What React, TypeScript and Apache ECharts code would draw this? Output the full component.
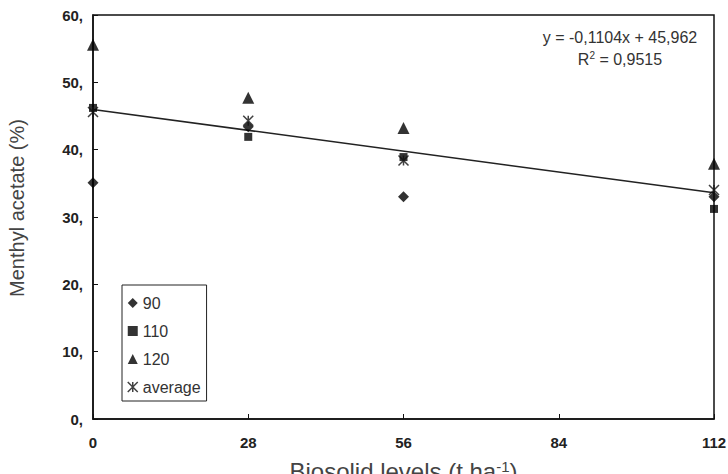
import React, { useEffect, useRef } from "react";
import * as echarts from "echarts";

const levels = [0, 28, 56, 112];
const s90 = [35.1, 43.4, 33.0, 33.0];
const s110 = [46.2, 41.9, 38.9, 31.2];
const s120 = [55.6, 47.7, 43.2, 37.9];
const sAvg = [45.6, 44.3, 38.4, 34.0];
const trendX = [0, 112];
const trendY = [45.962, 33.597];
const xTicks = [0, 28, 56, 84, 112];
const eqText = "y = -0,1104x + 45,962";
const r2Text = "0,9515";

const starPath = "path://M0,0L10,10M10,0L0,10M5,0L5,10";

export default function App() {
  const ref = useRef<HTMLDivElement>(null);
  useEffect(() => {
    if (!ref.current) return;
    const chart = echarts.init(ref.current, undefined, { renderer: "svg" });
    const pts = (ys: number[]) => levels.map((x, i) => [x, ys[i]]);
    const font = "Arial, 'Liberation Sans', sans-serif";
    chart.setOption({
      animation: false,
      textStyle: { fontFamily: font },
      grid: {
        left: 93, right: 14, top: 15, bottom: 55, show: true,
        borderColor: "#111", borderWidth: 1.5, backgroundColor: "transparent",
        outerBoundsMode: "none", containLabel: false,
      },
      legend: {
        orient: "vertical",
        left: 122,
        top: 285,
        padding: [10, 6, 6, 5],
        borderColor: "#222",
        borderWidth: 1,
        itemWidth: 10,
        itemHeight: 10,
        itemGap: 12,
        textStyle: { fontSize: 16, color: "#333", fontFamily: font },
        data: [
          { name: "90" },
          { name: "110" },
          { name: "120" },
          { name: "average", icon: starPath, itemStyle: { color: "transparent", borderColor: "#111", borderWidth: 1.5 } },
        ],
      },
      xAxis: {
        type: "value",
        min: 0,
        max: 112,
        interval: 28,
        splitLine: { show: false },
        axisLine: { lineStyle: { color: "#111", width: 1.5 } },
        axisTick: { inside: true, length: 5, lineStyle: { color: "#111" } },
        axisLabel: {
          fontSize: 15, fontWeight: "bold", color: "#222", margin: 16,
          customValues: xTicks,
        },
        name: "Biosolid levels (t ha{sup|-1})",
        nameLocation: "middle",
        nameGap: 40,
        nameTextStyle: {
          fontSize: 24, color: "#444", fontFamily: font,
          rich: { sup: { fontSize: 15, color: "#444", verticalAlign: "top", padding: [0, 0, 10, 0] } },
        },
      },
      yAxis: {
        type: "value",
        min: 0,
        max: 60,
        interval: 10,
        splitLine: { show: false },
        axisLine: { show: true, lineStyle: { color: "#111", width: 1.5 } },
        axisTick: { show: true, inside: true, length: 5, lineStyle: { color: "#111" } },
        axisLabel: { fontSize: 15, fontWeight: "bold", color: "#222", margin: 10, formatter: (v: number) => `${v},` },
        name: "Menthyl acetate (%)",
        nameLocation: "middle",
        nameGap: 66,
        nameTextStyle: { fontSize: 20, color: "#444", fontFamily: font, padding: [0, 0, 0, 18] },
      },
      series: [
        {
          name: "trend",
          type: "line",
          data: trendX.map((x, i) => [x, trendY[i]]),
          showSymbol: false,
          symbol: "none",
          lineStyle: { color: "#222", width: 1.5 },
          z: 1,
        },
        { name: "90", type: "scatter", data: pts(s90), symbol: "diamond", symbolSize: 11, itemStyle: { color: "#000" }, z: 3 },
        { name: "110", type: "scatter", data: pts(s110), symbol: "rect", symbolSize: 8, itemStyle: { color: "#000" }, z: 3 },
        { name: "120", type: "scatter", data: pts(s120), symbol: "triangle", symbolSize: 12, itemStyle: { color: "#000" }, z: 3 },
        {
          name: "average", type: "scatter", data: pts(sAvg), symbol: starPath, symbolSize: 10,
          itemStyle: { color: "transparent", borderColor: "#111", borderWidth: 1.5 }, z: 4,
        },
      ],
      graphic: [
        {
          type: "text", x: 620, y: 37,
          style: { text: eqText, fontSize: 16, fill: "#333", fontFamily: font, align: "center", verticalAlign: "middle" },
        },
        {
          type: "text", x: 620, y: 59,
          style: {
            text: "R{s|2} = " + r2Text, fontSize: 16, fill: "#333", fontFamily: font, align: "center", verticalAlign: "middle",
            rich: { s: { fontSize: 10, fill: "#333", verticalAlign: "top", padding: [0, 0, 7, 0] } },
          },
        },
      ],
    });
    return () => chart.dispose();
  }, []);
  return <div ref={ref} style={{ width: 728, height: 474, position: "absolute", left: 0, top: 0, background: "#fff" }} />;
}
